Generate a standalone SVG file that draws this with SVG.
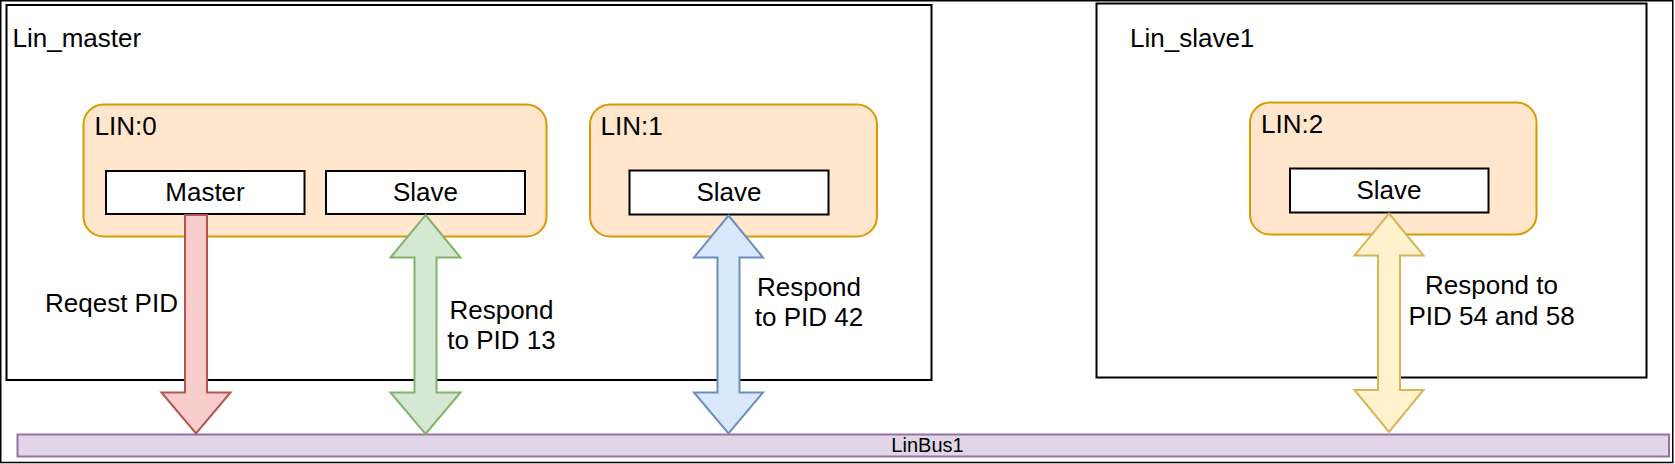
<svg xmlns="http://www.w3.org/2000/svg" width="1675" height="464" viewBox="0 0 1675 464">
  <style>
    text { font-family: "Liberation Sans", Arial, Helvetica, sans-serif; fill: #000000; }
    .t26 { font-size: 26px; }
    .mid { text-anchor: middle; }
    .frame { fill: #ffffff; stroke: #000000; stroke-width: 2; }
    .lin { fill: #ffe6cc; stroke: #d79b00; stroke-width: 2; }
    .role { fill: #ffffff; stroke: #000000; stroke-width: 2; }
    .bus { fill: #e1d5e7; stroke: #9673a6; stroke-width: 2; }
    .red { fill: #f8cecc; stroke: #b85450; stroke-width: 2; stroke-linejoin: miter; }
    .green { fill: #d5e8d4; stroke: #82b366; stroke-width: 2; }
    .blue { fill: #dae8fc; stroke: #6c8ebf; stroke-width: 2; }
    .yellow { fill: #fff2cc; stroke: #d6b656; stroke-width: 2; }
  </style>
  <rect x="0" y="0" width="1675" height="464" fill="#ffffff"/>
  <rect id="outer" x="0.75" y="0.75" width="1672" height="461.75" fill="none" stroke="#000000" stroke-width="1.5"/>

  <g id="lin_master">
    <rect class="frame" x="6.5" y="5" width="925" height="375"/>
    <text class="t26" x="12.5" y="47">Lin_master</text>
  </g>
  <g id="lin_slave1">
    <rect class="frame" x="1096.5" y="3.5" width="550" height="374"/>
    <text class="t26" x="1130" y="47">Lin_slave1</text>
  </g>

  <g id="lin0">
    <rect class="lin" x="83.5" y="104.5" width="463" height="132" rx="20" ry="20"/>
    <text class="t26" x="94.5" y="135">LIN:0</text>
  </g>
  <g id="lin1">
    <rect class="lin" x="590" y="104.5" width="287" height="132" rx="20" ry="20"/>
    <text class="t26" x="600.5" y="135">LIN:1</text>
  </g>
  <g id="lin2">
    <rect class="lin" x="1250" y="102.5" width="286.5" height="132" rx="20" ry="20"/>
    <text class="t26" x="1261" y="133">LIN:2</text>
  </g>

  <g id="master0">
    <rect class="role" x="106" y="171" width="198.5" height="43"/>
    <text class="t26 mid" x="205" y="200.5">Master</text>
  </g>
  <g id="slave0">
    <rect class="role" x="326" y="171" width="199" height="43"/>
    <text class="t26 mid" x="425.5" y="200.5">Slave</text>
  </g>
  <g id="slave1">
    <rect class="role" x="629.5" y="170.5" width="199" height="44"/>
    <text class="t26 mid" x="729" y="200.5">Slave</text>
  </g>
  <g id="slave2">
    <rect class="role" x="1290" y="168.5" width="198.5" height="44"/>
    <text class="t26 mid" x="1389" y="198.5">Slave</text>
  </g>

  <g id="linbus1">
    <rect class="bus" x="17.5" y="434.5" width="1651.5" height="22"/>
    <text class="mid" x="927.5" y="451.5" font-size="20">LinBus1</text>
  </g>

  <g id="connectors">
    <polygon class="red" points="185,215 207,215 207,392.5 230.5,392.5 196,433.5 161.5,392.5 185,392.5"/>
    <text class="t26 mid" x="111.5" y="311.5">Reqest PID</text>

    <polygon class="green" points="425.5,215 460.5,257.5 436.5,257.5 436.5,392.5 460.5,392.5 425.5,434 390.5,392.5 414.5,392.5 414.5,257.5 390.5,257.5"/>
    <text class="t26 mid" x="501.5" y="318.5">Respond</text>
    <text class="t26 mid" x="501.5" y="348.5">to PID 13</text>

    <polygon class="blue" points="728.5,215.5 763,257.5 739.5,257.5 739.5,392.5 763,392.5 728.5,433.5 694,392.5 717.5,392.5 717.5,257.5 694,257.5"/>
    <text class="t26 mid" x="809" y="296">Respond</text>
    <text class="t26 mid" x="809" y="326">to PID 42</text>

    <polygon class="yellow" points="1389,213.5 1423.5,255.5 1400,255.5 1400,390 1423.5,390 1389,432 1354.5,390 1378,390 1378,255.5 1354.5,255.5"/>
    <text class="t26 mid" x="1491.5" y="294">Respond to</text>
    <text class="t26 mid" x="1491.5" y="325">PID 54 and 58</text>
  </g>
</svg>
